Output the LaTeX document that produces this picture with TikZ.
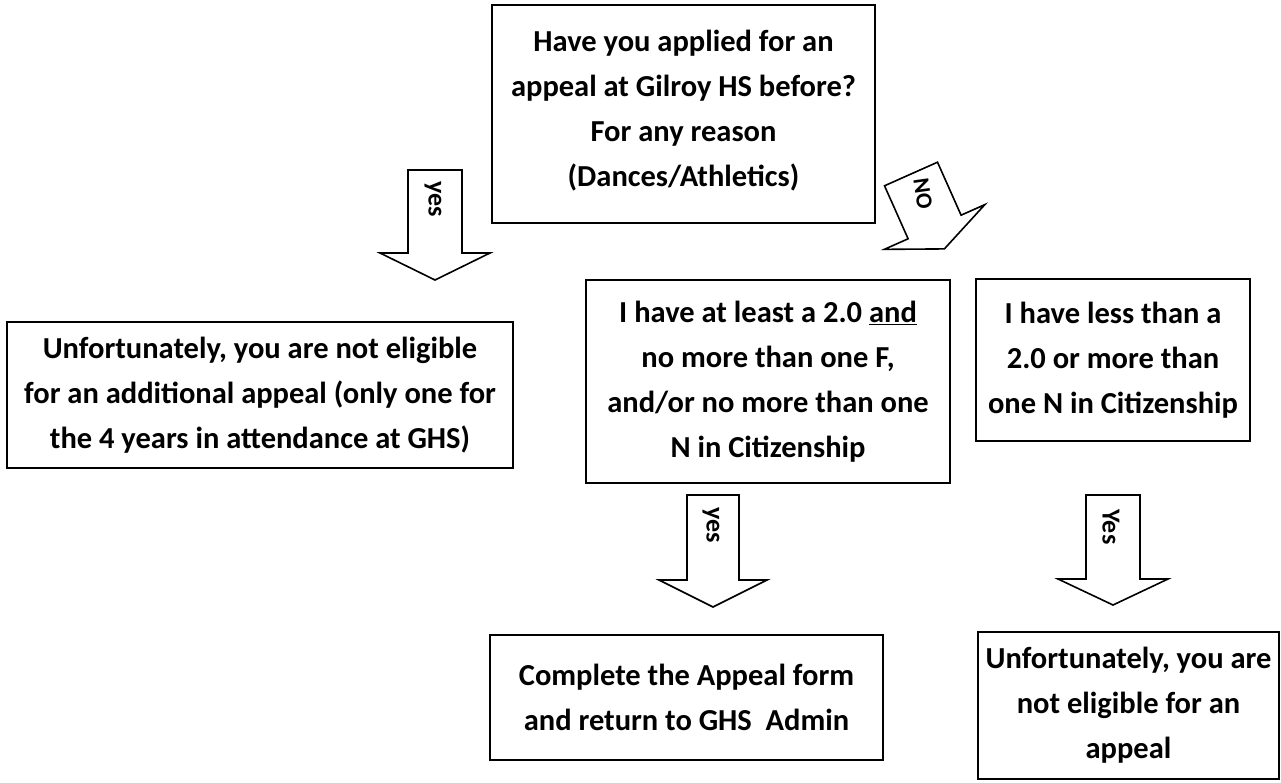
\documentclass[tikz,border=0pt]{standalone}
\usepackage{fontspec}
\setmainfont{Carlito}
\newcommand\blockarrow[4]{% #1 shaft length, #2 head height, #3 half shaft, #4 half head
  \draw[arr] (-#3,0) -- (#3,0) -- (#3,#1) -- (#4,#1) -- (0,#1+#2) -- (-#4,#1) -- (-#3,#1) -- cycle;}
\begin{document}
\begin{tikzpicture}[x=1pt,y=-1pt,
  box/.style={draw, line width=1.6pt, align=center, inner sep=0pt,
    font=\bfseries\fontsize{30.5}{45}\selectfont},
  arr/.style={draw, line width=1.6pt, line join=miter, fill=white},
  lab/.style={font=\bfseries\fontsize{26}{30}\selectfont, inner sep=0pt}]
\useasboundingbox[fill=white] (0,0) rectangle (1281,783);

% boxes
\node[box, minimum width=383pt, minimum height=218pt] (q) at (683.5,114)
  {Have you applied for an\\appeal at Gilroy HS before?\\For any reason\\(Dances/Athletics)\\[-33pt]\mbox{}};
\node[box, minimum width=506pt, minimum height=146pt] (noteA) at (260,395)
  {Unfortunately, you are not eligible\\for an additional appeal (only one for\\the 4 years in attendance at GHS)};
\node[box, minimum width=364pt, minimum height=203pt] (ok) at (768,381.5)
  {I have at least a 2.0 \underline{and}\\no more than one F,\\and/or no more than one\\N in Citizenship};
\node[box, minimum width=274pt, minimum height=162pt] (low) at (1113,360)
  {I have less than a\\2.0 or more than\\one N in Citizenship};
\node[box, minimum width=393pt, minimum height=125pt] (form) at (686.5,697.5)
  {Complete the Appeal form\\and return to GHS~~Admin};
\node[box, minimum width=301pt, minimum height=147pt] (noteB) at (1128.5,705.5)
  {Unfortunately, you are\\not eligible for an\\appeal};

% block arrows
\begin{scope}[shift={(435,170)}]
  \coordinate (yesA) at (0,0);
  \blockarrow{83}{27}{27}{55}
\end{scope}
\node[lab, rotate=-90] (yesAl) at (433,199) {yes};

\begin{scope}[shift={(911,174)}, rotate=24]
  \coordinate (noA) at (0,0);
  \blockarrow{58}{24}{29}{55}
\end{scope}
\node[lab, rotate=-82, font=\bfseries\fontsize{23}{26}\selectfont] (noAl) at (923,194) {NO};

\begin{scope}[shift={(713,495)}]
  \coordinate (yesB) at (0,0);
  \blockarrow{85}{27}{26}{54}
\end{scope}
\node[lab, rotate=-90] (yesBl) at (711,525) {yes};

\begin{scope}[shift={(1113,495)}]
  \coordinate (yesC) at (0,0);
  \blockarrow{84}{26}{27}{55}
\end{scope}
\node[lab, rotate=-90] (yesCl) at (1111,527) {Yes};
\end{tikzpicture}
\end{document}
